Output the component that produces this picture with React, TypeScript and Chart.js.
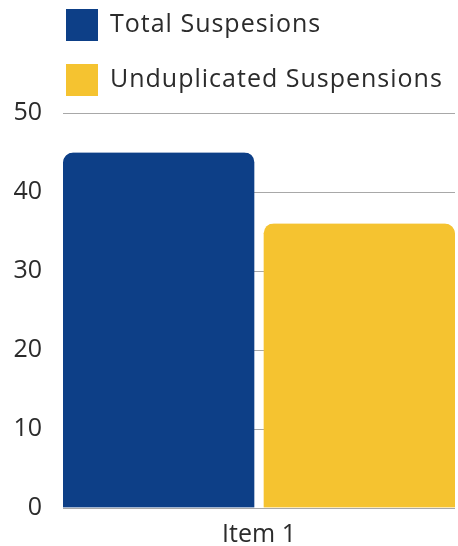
import { useEffect, useRef } from 'react';
import { Chart, registerables } from 'chart.js';

Chart.register(...registerables);

// Chart data
const categories = ['Item 1'];
const seriesNames = ['Total Suspesions', 'Unduplicated Suspensions'];
const totalSuspensions = [45];
const unduplicatedSuspensions = [36];
const seriesColors = ['#0d3f87', '#f5c330'];
const yMin = 0;
const yMax = 50;
const yStep = 10;

const FONT = '"Open Sans", "Noto Sans", sans-serif';
const TEXT_COLOR = '#2b2b2b';
const GRID_COLOR = '#a8a8a8';

// Legend drawn as a vertical list in the top-left corner
const stackedLegend = {
  id: 'stackedLegend',
  afterDraw(chart: any) {
    const ctx = chart.ctx as CanvasRenderingContext2D;
    ctx.save();
    ctx.font = `25px ${FONT}`;
    (ctx as any).letterSpacing = '1px';
    ctx.textAlign = 'left';
    ctx.textBaseline = 'alphabetic';
    chart.data.datasets.forEach((ds: any, i: number) => {
      const top = 9 + i * 55;
      ctx.fillStyle = ds.backgroundColor;
      ctx.fillRect(66, top, 32, 32);
      ctx.fillStyle = TEXT_COLOR;
      ctx.fillText(ds.label, 110, top + 23);
    });
    ctx.restore();
  },
};

export default function App() {
  const canvasRef = useRef<HTMLCanvasElement | null>(null);

  useEffect(() => {
    const canvas = canvasRef.current;
    if (!canvas) return;

    const chart = new Chart(canvas, {
      type: 'bar',
      data: {
        labels: categories,
        datasets: [
          {
            label: seriesNames[0],
            data: totalSuspensions,
            backgroundColor: seriesColors[0],
            borderColor: 'rgba(0,0,0,0)',
            borderWidth: { top: 0, left: 0, bottom: 0, right: 5 },
            borderRadius: { topLeft: 10, topRight: 15, bottomLeft: 0, bottomRight: 0 },
            barPercentage: 1,
            categoryPercentage: 1,
          },
          {
            label: seriesNames[1],
            data: unduplicatedSuspensions,
            backgroundColor: seriesColors[1],
            borderColor: 'rgba(0,0,0,0)',
            borderWidth: { top: 0, left: 5, bottom: 0, right: 0 },
            borderRadius: { topLeft: 15, topRight: 10, bottomLeft: 0, bottomRight: 0 },
            barPercentage: 1,
            categoryPercentage: 1,
          },
        ],
      },
      options: {
        responsive: false,
        animation: false,
        layout: { padding: { top: 113, right: 3, bottom: 0, left: 0 } },
        plugins: {
          legend: { display: false },
          tooltip: { enabled: false },
        },
        scales: {
          x: {
            grid: { display: false },
            border: { display: false },
            ticks: {
              color: TEXT_COLOR,
              font: { family: FONT, size: 25 },
              padding: 4,
            },
            afterFit: (scale: any) => {
              scale.height = 38;
            },
          },
          y: {
            min: yMin,
            max: yMax,
            grid: { color: GRID_COLOR, lineWidth: 1, drawTicks: false },
            border: { display: false },
            ticks: {
              stepSize: yStep,
              color: TEXT_COLOR,
              font: { family: FONT, size: 25 },
              padding: 21,
            },
            afterFit: (scale: any) => {
              scale.width = 63;
            },
          },
        },
      },
      plugins: [stackedLegend],
    });

    return () => chart.destroy();
  }, []);

  return (
    <div style={{ position: 'absolute', left: 0, top: 0, width: 458, height: 546, background: '#ffffff' }}>
      <canvas ref={canvasRef} width={458} height={546} style={{ display: 'block' }} />
    </div>
  );
}
